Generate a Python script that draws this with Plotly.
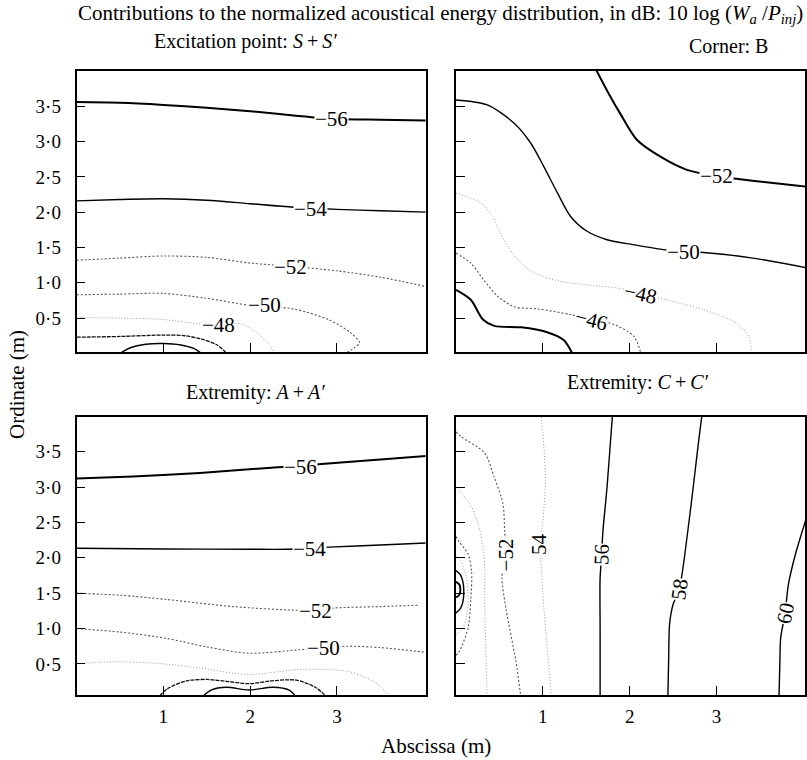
import plotly.graph_objects as go

# ---------------- data: contour lines (x, y in metres) ----------------
# Panel 1: Excitation point S+S'
S_M56_X = [0, 0.5, 1.0, 1.5, 2.0, 2.5, 3.0, 3.5, 4.05]
S_M56_Y = [3.56, 3.55, 3.52, 3.48, 3.43, 3.37, 3.32, 3.31, 3.30]
S_M54_X = [0, 0.5, 1.0, 1.5, 2.0, 2.5, 3.0, 3.5, 4.05]
S_M54_Y = [2.16, 2.18, 2.19, 2.17, 2.12, 2.07, 2.04, 2.02, 2.00]
S_M52_X = [0, 0.5, 1.0, 1.5, 2.0, 2.5, 3.0, 3.5, 4.05]
S_M52_Y = [1.32, 1.35, 1.38, 1.36, 1.28, 1.23, 1.17, 1.08, 0.94]
S_M50_X = [0, 0.5, 1.0, 1.5, 2.0, 2.5, 2.9, 3.15, 3.26, 3.2, 3.1]
S_M50_Y = [0.83, 0.84, 0.85, 0.78, 0.68, 0.63, 0.48, 0.30, 0.15, 0.08, 0.0]
S_M48_X = [0, 0.5, 1.0, 1.4, 1.7, 1.9, 2.1, 2.22, 2.28]
S_M48_Y = [0.51, 0.50, 0.48, 0.42, 0.40, 0.42, 0.27, 0.12, 0.0]
S_M46_X = [0, 0.5, 1.0, 1.25, 1.45, 1.62, 1.73]
S_M46_Y = [0.23, 0.24, 0.26, 0.25, 0.20, 0.12, 0.0]
S_M44_X = [0.50, 0.62, 0.8, 1.0, 1.2, 1.35, 1.44]
S_M44_Y = [0.0, 0.08, 0.13, 0.14, 0.12, 0.07, 0.0]

# Panel 2: Corner B
B_M52_X = [1.60, 1.75, 1.89, 2.08, 2.35, 2.66, 3.0, 3.25, 3.6, 4.05]
B_M52_Y = [4.05, 3.70, 3.40, 3.03, 2.79, 2.60, 2.51, 2.47, 2.42, 2.36]
B_M50_X = [0, 0.36, 0.67, 0.86, 1.01, 1.17, 1.32, 1.51, 1.74, 2.04, 2.39, 2.62, 2.85, 3.42, 4.05]
B_M50_Y = [3.59, 3.52, 3.26, 2.98, 2.65, 2.27, 1.94, 1.73, 1.61, 1.54, 1.47, 1.44, 1.43, 1.35, 1.21]
B_M48_X = [0, 0.29, 0.42, 0.55, 0.71, 0.90, 1.20, 1.51, 1.89, 2.13, 2.35, 2.85, 3.23, 3.37, 3.41]
B_M48_Y = [2.27, 2.13, 1.94, 1.61, 1.33, 1.14, 1.02, 0.97, 0.92, 0.85, 0.78, 0.62, 0.43, 0.24, 0.0]
B_M46_X = [0, 0.17, 0.32, 0.48, 0.67, 0.94, 1.32, 1.56, 1.82, 2.05, 2.13]
B_M46_Y = [1.42, 1.28, 1.04, 0.81, 0.66, 0.63, 0.55, 0.48, 0.41, 0.24, 0.0]
B_M44_X = [0, 0.17, 0.31, 0.44, 0.75, 1.05, 1.24, 1.34]
B_M44_Y = [0.90, 0.76, 0.48, 0.39, 0.37, 0.30, 0.19, 0.0]

# Panel 3: Extremity A+A'
A_M56_X = [0, 0.65, 1.42, 2.32, 2.58, 2.86, 3.5, 4.05]
A_M56_Y = [3.12, 3.15, 3.20, 3.28, 3.30, 3.33, 3.39, 3.44]
A_M54_X = [0, 1.04, 2.0, 2.42, 2.68, 2.91, 3.5, 4.05]
A_M54_Y = [2.135, 2.125, 2.12, 2.12, 2.13, 2.15, 2.18, 2.21]
A_M52_X = [0, 0.5, 1.04, 1.8, 2.49, 2.75, 2.97, 3.5, 3.95]
A_M52_Y = [1.50, 1.47, 1.41, 1.31, 1.26, 1.26, 1.29, 1.31, 1.33]
A_M50_X = [0, 0.5, 1.04, 1.5, 1.99, 2.57, 2.84, 3.12, 3.5, 4.05]
A_M50_Y = [1.0, 0.95, 0.86, 0.74, 0.65, 0.70, 0.72, 0.75, 0.73, 0.66]
A_M48_X = [0, 0.46, 1.0, 1.42, 1.99, 2.57, 3.14, 3.45, 3.57, 3.62]
A_M48_Y = [0.50, 0.53, 0.50, 0.44, 0.35, 0.42, 0.39, 0.23, 0.09, 0.0]
A_M46_X = [0.92, 1.05, 1.27, 1.5, 1.75, 1.99, 2.25, 2.53, 2.75, 2.91]
A_M46_Y = [0.0, 0.15, 0.26, 0.28, 0.25, 0.22, 0.26, 0.27, 0.17, 0.0]
A_M44_X = [1.42, 1.55, 1.73, 1.99, 2.26, 2.45, 2.55]
A_M44_Y = [0.0, 0.13, 0.17, 0.13, 0.17, 0.13, 0.0]

# Panel 4: Extremity C+C'
C_60_X = [3.72, 3.73, 3.74, 3.79, 3.83, 3.91, 4.05]
C_60_Y = [0.0, 0.5, 0.87, 1.21, 1.63, 2.05, 2.62]
C_58_X = [2.44, 2.45, 2.46, 2.50, 2.57, 2.61, 2.71, 2.83, 2.85]
C_58_Y = [0.0, 0.6, 1.06, 1.34, 1.55, 1.82, 2.77, 3.98, 4.1]
C_56_X = [1.66, 1.66, 1.66, 1.68, 1.69, 1.74, 1.80, 1.81]
C_56_Y = [0.0, 1.0, 1.72, 2.05, 2.34, 3.0, 3.98, 4.1]
C_54_X = [1.10, 1.06, 1.03, 1.0, 0.985, 0.97, 1.0, 1.03, 1.0, 0.97]
C_54_Y = [0.0, 0.6, 1.01, 1.5, 1.82, 2.2, 2.5, 3.14, 3.75, 4.1]
C_52_X = [0.0, 0.06, 0.33, 0.44, 0.54, 0.56, 0.57, 0.53, 0.58, 0.69, 0.75]
C_52_Y = [3.78, 3.71, 3.48, 3.14, 2.77, 2.39, 2.04, 1.72, 1.25, 0.54, 0.0]
C_50_X = [0, 0.03, 0.18, 0.28, 0.33, 0.33, 0.34, 0.36]
C_50_Y = [3.0, 2.96, 2.72, 2.36, 1.9, 1.44, 0.8, 0.0]
C_48_X = [0, 0.04, 0.14, 0.18, 0.17, 0.14, 0.04, 0]
C_48_Y = [2.30, 2.22, 2.05, 1.80, 1.40, 1.01, 0.68, 0.62]
C_46_X = [0, 0.06, 0.12, 0.14, 0.12, 0.06, 0]
C_46_Y = [2.02, 1.94, 1.72, 1.44, 1.15, 0.97, 0.92]
C_44_X = [0, 0.05, 0.08, 0.09, 0.08, 0.05, 0]
C_44_Y = [1.82, 1.76, 1.66, 1.52, 1.38, 1.28, 1.22]
C_42_X = [0, 0.04, 0.05, 0.04, 0]
C_42_Y = [1.66, 1.62, 1.55, 1.48, 1.44]

# contour labels: text, x, y, angle
S_LABELS = [("−56", 2.94, 3.32, 0), ("−54", 2.69, 2.04, 0), ("−52", 2.46, 1.23, 0),
            ("−50", 2.17, 0.68, 0), ("−48", 1.64, 0.40, 0)]
B_LABELS = [("−52", 3.0, 2.51, 0), ("−50", 2.62, 1.44, 0), ("−48", 2.13, 0.84, 12),
            ("−46", 1.56, 0.48, 14)]
A_LABELS = [("−56", 2.58, 3.29, 0), ("−54", 2.68, 2.12, 0), ("−52", 2.75, 1.25, 0),
            ("−50", 2.84, 0.72, 0)]
C_LABELS = [("−52", 0.57, 2.04, -90), ("54", 0.95, 2.20, -90), ("56", 1.68, 2.05, -88),
            ("58", 2.57, 1.55, -82), ("60", 3.79, 1.21, -78)]

Y_TICKS = [0.5, 1.0, 1.5, 2.0, 2.5, 3.0, 3.5]
Y_TICK_TEXT = ["0·5", "1·0", "1·5", "2·0", "2·5", "3·0", "3·5"]
X_TICKS = [1, 2, 3]
X_TICK_TEXT = ["1", "2", "3"]

TITLE = ("Contributions to the normalized acoustical energy distribution, in dB: 10 log "
         "(<i>W<sub>a</sub></i> /<i>P<sub>inj</sub></i>)")
SUBTITLES = ["Excitation point: <i>S</i>\u2009+\u2009<i>S′</i>", "Corner: B",
             "Extremity: <i>A</i>\u2009+\u2009<i>A′</i>", "Extremity: <i>C</i>\u2009+\u2009<i>C′</i>"]

# ---------------- styles ----------------
W, H = 807, 760
FONT = "Liberation Serif"
SOLID = dict(color="black", width=2.0)
SOLID_T = dict(color="black", width=1.4)
DASHED = dict(color="#111", width=1.3, dash="4px,1px")
DOT_D = dict(color="#555", width=1.1, dash="2px,2px")
DOT_L = dict(color="#999", width=1.0, dash="1px,2px")

fig = go.Figure()

def add(xs, ys, style, ax):
    fig.add_trace(go.Scatter(x=xs, y=ys, mode="lines", line=dict(shape="spline", smoothing=0.8, **style),
                             xaxis="x" + ax, yaxis="y" + ax, hoverinfo="skip", showlegend=False))

# panel 1
add(S_M56_X, S_M56_Y, SOLID, "")
add(S_M54_X, S_M54_Y, SOLID_T, "")
add(S_M52_X, S_M52_Y, DOT_D, "")
add(S_M50_X, S_M50_Y, DOT_D, "")
add(S_M48_X, S_M48_Y, DOT_L, "")
add(S_M46_X, S_M46_Y, DASHED, "")
add(S_M44_X, S_M44_Y, SOLID_T, "")
# panel 2
add(B_M52_X, B_M52_Y, SOLID, "2")
add(B_M50_X, B_M50_Y, SOLID_T, "2")
add(B_M48_X, B_M48_Y, DOT_L, "2")
add(B_M46_X, B_M46_Y, DOT_D, "2")
add(B_M44_X, B_M44_Y, SOLID, "2")
# panel 3
add(A_M56_X, A_M56_Y, SOLID, "3")
add(A_M54_X, A_M54_Y, SOLID_T, "3")
add(A_M52_X, A_M52_Y, DOT_D, "3")
add(A_M50_X, A_M50_Y, DOT_D, "3")
add(A_M48_X, A_M48_Y, DOT_L, "3")
add(A_M46_X, A_M46_Y, DASHED, "3")
add(A_M44_X, A_M44_Y, SOLID_T, "3")
# panel 4
add(C_60_X, C_60_Y, SOLID_T, "4")
add(C_58_X, C_58_Y, SOLID_T, "4")
add(C_56_X, C_56_Y, SOLID_T, "4")
add(C_54_X, C_54_Y, DOT_L, "4")
add(C_52_X, C_52_Y, DOT_D, "4")
add(C_50_X, C_50_Y, DOT_L, "4")
add(C_48_X, C_48_Y, DOT_D, "4")
add(C_46_X, C_46_Y, DOT_L, "4")
add(C_44_X, C_44_Y, SOLID_T, "4")
add(C_42_X, C_42_Y, SOLID, "4")

# ---------------- axes ----------------
def dom(a, b, n):
    return [a / n, b / n]

def ydom(top, bot):
    return [1 - bot / H, 1 - top / H]

XL, XR = (76.5, 425.5), (456, 805)
YT, YB = (71, 352), (417, 695)
TICKFONT = dict(family=FONT, size=19, color="black")

def xax(d, show, anchor):
    return dict(domain=dom(*d, W), range=[0, 4.02], tickvals=X_TICKS, ticktext=X_TICK_TEXT,
                showticklabels=show, ticks="inside", ticklen=9, tickwidth=1.2, tickcolor="black",
                showline=True, linecolor="black", linewidth=1.6, mirror=True, showgrid=False,
                zeroline=False, anchor=anchor, tickfont=TICKFONT, ticklabelstandoff=3)

def yax(d, rng, show, anchor):
    return dict(domain=ydom(*d), range=rng, tickvals=Y_TICKS, ticktext=Y_TICK_TEXT,
                showticklabels=show, ticks="inside", ticklen=9, tickwidth=1.2, tickcolor="black",
                showline=True, linecolor="black", linewidth=1.6, mirror=True, showgrid=False,
                zeroline=False, anchor=anchor, tickfont=TICKFONT, ticklabelstandoff=10)

RT, RB = [0.02, 4.0], [0.06, 3.99]
fig.update_layout(
    width=W, height=H, margin=dict(l=0, r=0, t=0, b=0),
    paper_bgcolor="white", plot_bgcolor="white",
    xaxis=xax(XL, False, "y"), yaxis=yax(YT, RT, True, "x"),
    xaxis2=xax(XR, False, "y2"), yaxis2=yax(YT, RT, False, "x2"),
    xaxis3=xax(XL, True, "y3"), yaxis3=yax(YB, RB, True, "x3"),
    xaxis4=xax(XR, True, "y4"), yaxis4=yax(YB, RB, False, "x4"),
    font=dict(family=FONT, color="black"),
)

ann = []
for labels, ax in [(S_LABELS, ""), (B_LABELS, "2"), (A_LABELS, "3"), (C_LABELS, "4")]:
    for t, x, y, a in labels:
        ann.append(dict(text=t, x=x, y=y, xref="x" + ax, yref="y" + ax, showarrow=False,
                        textangle=a, bgcolor="white", borderpad=0,
                        font=dict(family=FONT, size=21, color="black")))

def pann(text, px, py, size, angle=0):
    return dict(text=text, x=px / W, y=1 - py / H, xref="paper", yref="paper", showarrow=False,
                xanchor="center", yanchor="middle", textangle=angle,
                font=dict(family=FONT, size=size, color="black"))

ann.append(pann(TITLE, 440, 14, 21))
ann.append(pann(SUBTITLES[0], 246, 41, 20))
ann.append(pann(SUBTITLES[1], 728, 46, 20))
ann.append(pann(SUBTITLES[2], 255, 392, 20))
ann.append(pann(SUBTITLES[3], 638, 383, 20))
ann.append(pann("Ordinate (m)", 17, 385, 21, -90))
ann.append(pann("Abscissa (m)", 436, 746, 21))
fig.update_layout(annotations=ann)

fig.write_html("out.html")
